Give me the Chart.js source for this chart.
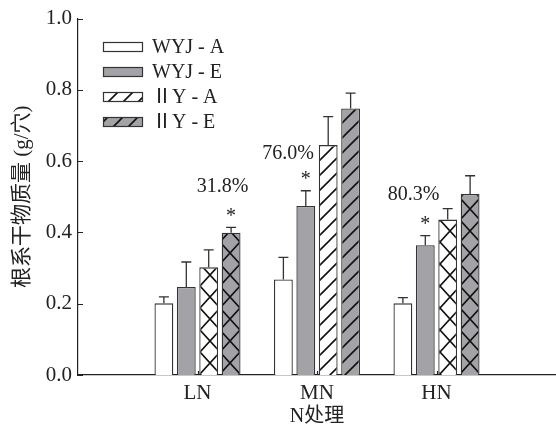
<!DOCTYPE html>
<html>
<head>
<meta charset="utf-8">
<script src="https://cdn.jsdelivr.net/npm/chart.js@4.4.1/dist/chart.umd.min.js"></script>
<style>
  html, body { margin: 0; padding: 0; background: #fff; }
  #wrap { width: 556px; height: 430px; }
</style>
</head>
<body>
<div id="wrap"><canvas id="myChart" width="556" height="430"></canvas></div>
<script>
// data
const categories = ['', 'LN', 'MN', 'HN', ''];
const seriesNames = ['WYJ - A', 'WYJ - E', 'ⅡY - A', 'ⅡY - E'];

const wyjA = [null, 0.201, 0.268, 0.201, null];
const wyjE = [null, 0.247, 0.474, 0.364, null];
const iiyA = [null, 0.302, 0.645, 0.436, null];
const iiyE = [null, 0.399, 0.748, 0.508, null];

const wyjAErr = [0, 0.018, 0.062, 0.016, 0];
const wyjEErr = [0, 0.070, 0.043, 0.027, 0];
const iiyAErr = [0, 0.049, 0.080, 0.031, 0];
const iiyEErr = [0, 0.015, 0.043, 0.051, 0];

const yTicks = [0, 0.2, 0.4, 0.6, 0.8, 1.0];

// significance marks: category index, series index
const starCats = [1, 2, 3];
const starSeries = [3, 1, 1];
const pctLabels = ['31.8%', '76.0%', '80.3%'];
const pctValues = [0.529, 0.621, 0.507];

// layout of the percent labels (pixel shift from category centre)
const pctShift = [25, -29, -23];

const serif = '"Liberation Serif", "Times New Roman", "Noto Sans CJK SC", serif';
const gray = '#a3a3a7';
const ink = '#222';

const canvas = document.getElementById('myChart');
const mainCtx = canvas.getContext('2d');

function diagPattern(bg) {
    const c = document.createElement('canvas');
    c.width = 15; c.height = 15;
    const g = c.getContext('2d');
    g.fillStyle = bg;
    g.fillRect(0, 0, 15, 15);
    g.strokeStyle = '#111';
    g.lineWidth = 1.6;
    g.beginPath();
    g.moveTo(0, 15); g.lineTo(15, 0);
    g.moveTo(-2, 2); g.lineTo(2, -2);
    g.moveTo(13, 17); g.lineTo(17, 13);
    g.stroke();
    return mainCtx.createPattern(c, 'repeat');
}

function latticePattern(bg) {
    const c = document.createElement('canvas');
    c.width = 20; c.height = 22;
    const g = c.getContext('2d');
    g.fillStyle = bg;
    g.fillRect(0, 0, 20, 22);
    g.strokeStyle = '#111';
    g.lineWidth = 1.6;
    g.beginPath();
    g.moveTo(0, 0); g.lineTo(20, 22);
    g.moveTo(20, 0); g.lineTo(0, 22);
    g.stroke();
    return mainCtx.createPattern(c, 'repeat');
}

const diagWhite = diagPattern('#fff');
const diagGray = diagPattern(gray);
const latWhite = latticePattern('#fff');
const latGray = latticePattern(gray);

const datasets = [
    { label: seriesNames[0], data: wyjA, errors: wyjAErr, backgroundColor: '#fff', legendFill: '#fff' },
    { label: seriesNames[1], data: wyjE, errors: wyjEErr, backgroundColor: gray, legendFill: gray },
    { label: seriesNames[2], data: iiyA, errors: iiyAErr,
      backgroundColor: ['#fff', latWhite, diagWhite, latWhite, '#fff'], legendFill: diagWhite },
    { label: seriesNames[3], data: iiyE, errors: iiyEErr,
      backgroundColor: [gray, latGray, diagGray, latGray, gray], legendFill: diagGray },
];
datasets.forEach(d => {
    d.borderColor = '#333';
    d.borderWidth = 1.3;
    d.categoryPercentage = 0.75;
    d.barPercentage = 0.84;
});

const extras = {
    id: 'extras',
    afterDatasetsDraw(chart) {
        const ctx = chart.ctx;
        const xs = chart.scales.x, ys = chart.scales.y;
        const area = chart.chartArea;
        ctx.save();

        // error bars (upper only)
        ctx.strokeStyle = '#333';
        ctx.lineWidth = 1.3;
        chart.data.datasets.forEach((ds, di) => {
            chart.getDatasetMeta(di).data.forEach((bar, i) => {
                const v = ds.data[i];
                if (v == null) return;
                const top = ys.getPixelForValue(v + ds.errors[i]);
                ctx.beginPath();
                ctx.moveTo(bar.x, bar.y);
                ctx.lineTo(bar.x, top);
                ctx.moveTo(bar.x - 5, top);
                ctx.lineTo(bar.x + 5, top);
                ctx.stroke();
            });
        });

        // inward ticks
        ctx.strokeStyle = ink;
        ctx.lineWidth = 1.2;
        ctx.beginPath();
        yTicks.forEach(t => {
            const py = Math.round(ys.getPixelForValue(t)) + 0.5;
            ctx.moveTo(area.left, py);
            ctx.lineTo(area.left + 5, py);
        });
        for (let i = 1; i <= 3; i++) {
            const px = Math.round(xs.getPixelForValue(i)) + 0.5;
            ctx.moveTo(px, area.bottom);
            ctx.lineTo(px, area.bottom - 4);
        }
        ctx.stroke();

        // stars and percent labels
        ctx.fillStyle = ink;
        ctx.textAlign = 'center';
        ctx.textBaseline = 'middle';
        starCats.forEach((c, k) => {
            const ds = chart.data.datasets[starSeries[k]];
            const bar = chart.getDatasetMeta(starSeries[k]).data[c];
            const top = ys.getPixelForValue(ds.data[c] + ds.errors[c]);
            ctx.font = '20px ' + serif;
            ctx.fillText('*', bar.x, top - 11);
            ctx.font = '20px ' + serif;
            ctx.fillText(pctLabels[k], xs.getPixelForValue(c) + pctShift[k], ys.getPixelForValue(pctValues[k]));
        });

        // legend
        ctx.textAlign = 'left';
        ctx.font = '20px ' + serif;
        chart.data.datasets.forEach((ds, di) => {
            const yc = 47 + di * 25;
            ctx.fillStyle = ds.legendFill;
            ctx.fillRect(103, yc - 4.5, 40, 9);
            ctx.strokeStyle = '#333';
            ctx.lineWidth = 1.2;
            ctx.strokeRect(103.5, yc - 4.5, 39, 9);
            ctx.fillStyle = ink;
            ctx.fillText(ds.label, 152, yc + 1);
        });

        ctx.restore();
    }
};

new Chart(canvas, {
    type: 'bar',
    data: { labels: categories, datasets: datasets },
    options: {
        responsive: false,
        animation: false,
        layout: { padding: { top: 16, right: 0, left: 0, bottom: 0 } },
        plugins: { legend: { display: false }, tooltip: { enabled: false } },
        scales: {
            x: {
                offset: false,
                grid: { display: false, drawTicks: true, tickLength: 6 },
                border: { display: true, color: ink, width: 1.2 },
                ticks: { color: ink, font: { family: serif, size: 21 }, padding: 0, autoSkip: false, maxRotation: 0 },
                title: { display: true, text: 'N处理', color: ink, font: { family: serif, size: 20 }, padding: { top: 0, bottom: 1 } },
                afterFit(scale) { scale.height = 55; }
            },
            y: {
                min: 0, max: 1,
                afterBuildTicks(scale) { scale.ticks = yTicks.map(v => ({ value: v })); },
                grid: { display: false, drawTicks: false },
                border: { display: true, color: ink, width: 1.2 },
                ticks: { color: ink, font: { family: serif, size: 21 }, padding: 6, callback: v => v.toFixed(1) },
                title: { display: true, text: '根系干物质量 (g/穴)', color: ink, font: { family: serif, size: 21 }, padding: { top: 10, bottom: 0 } },
                afterFit(scale) { scale.width = 78; }
            }
        }
    },
    plugins: [extras]
});
</script>
</body>
</html>
